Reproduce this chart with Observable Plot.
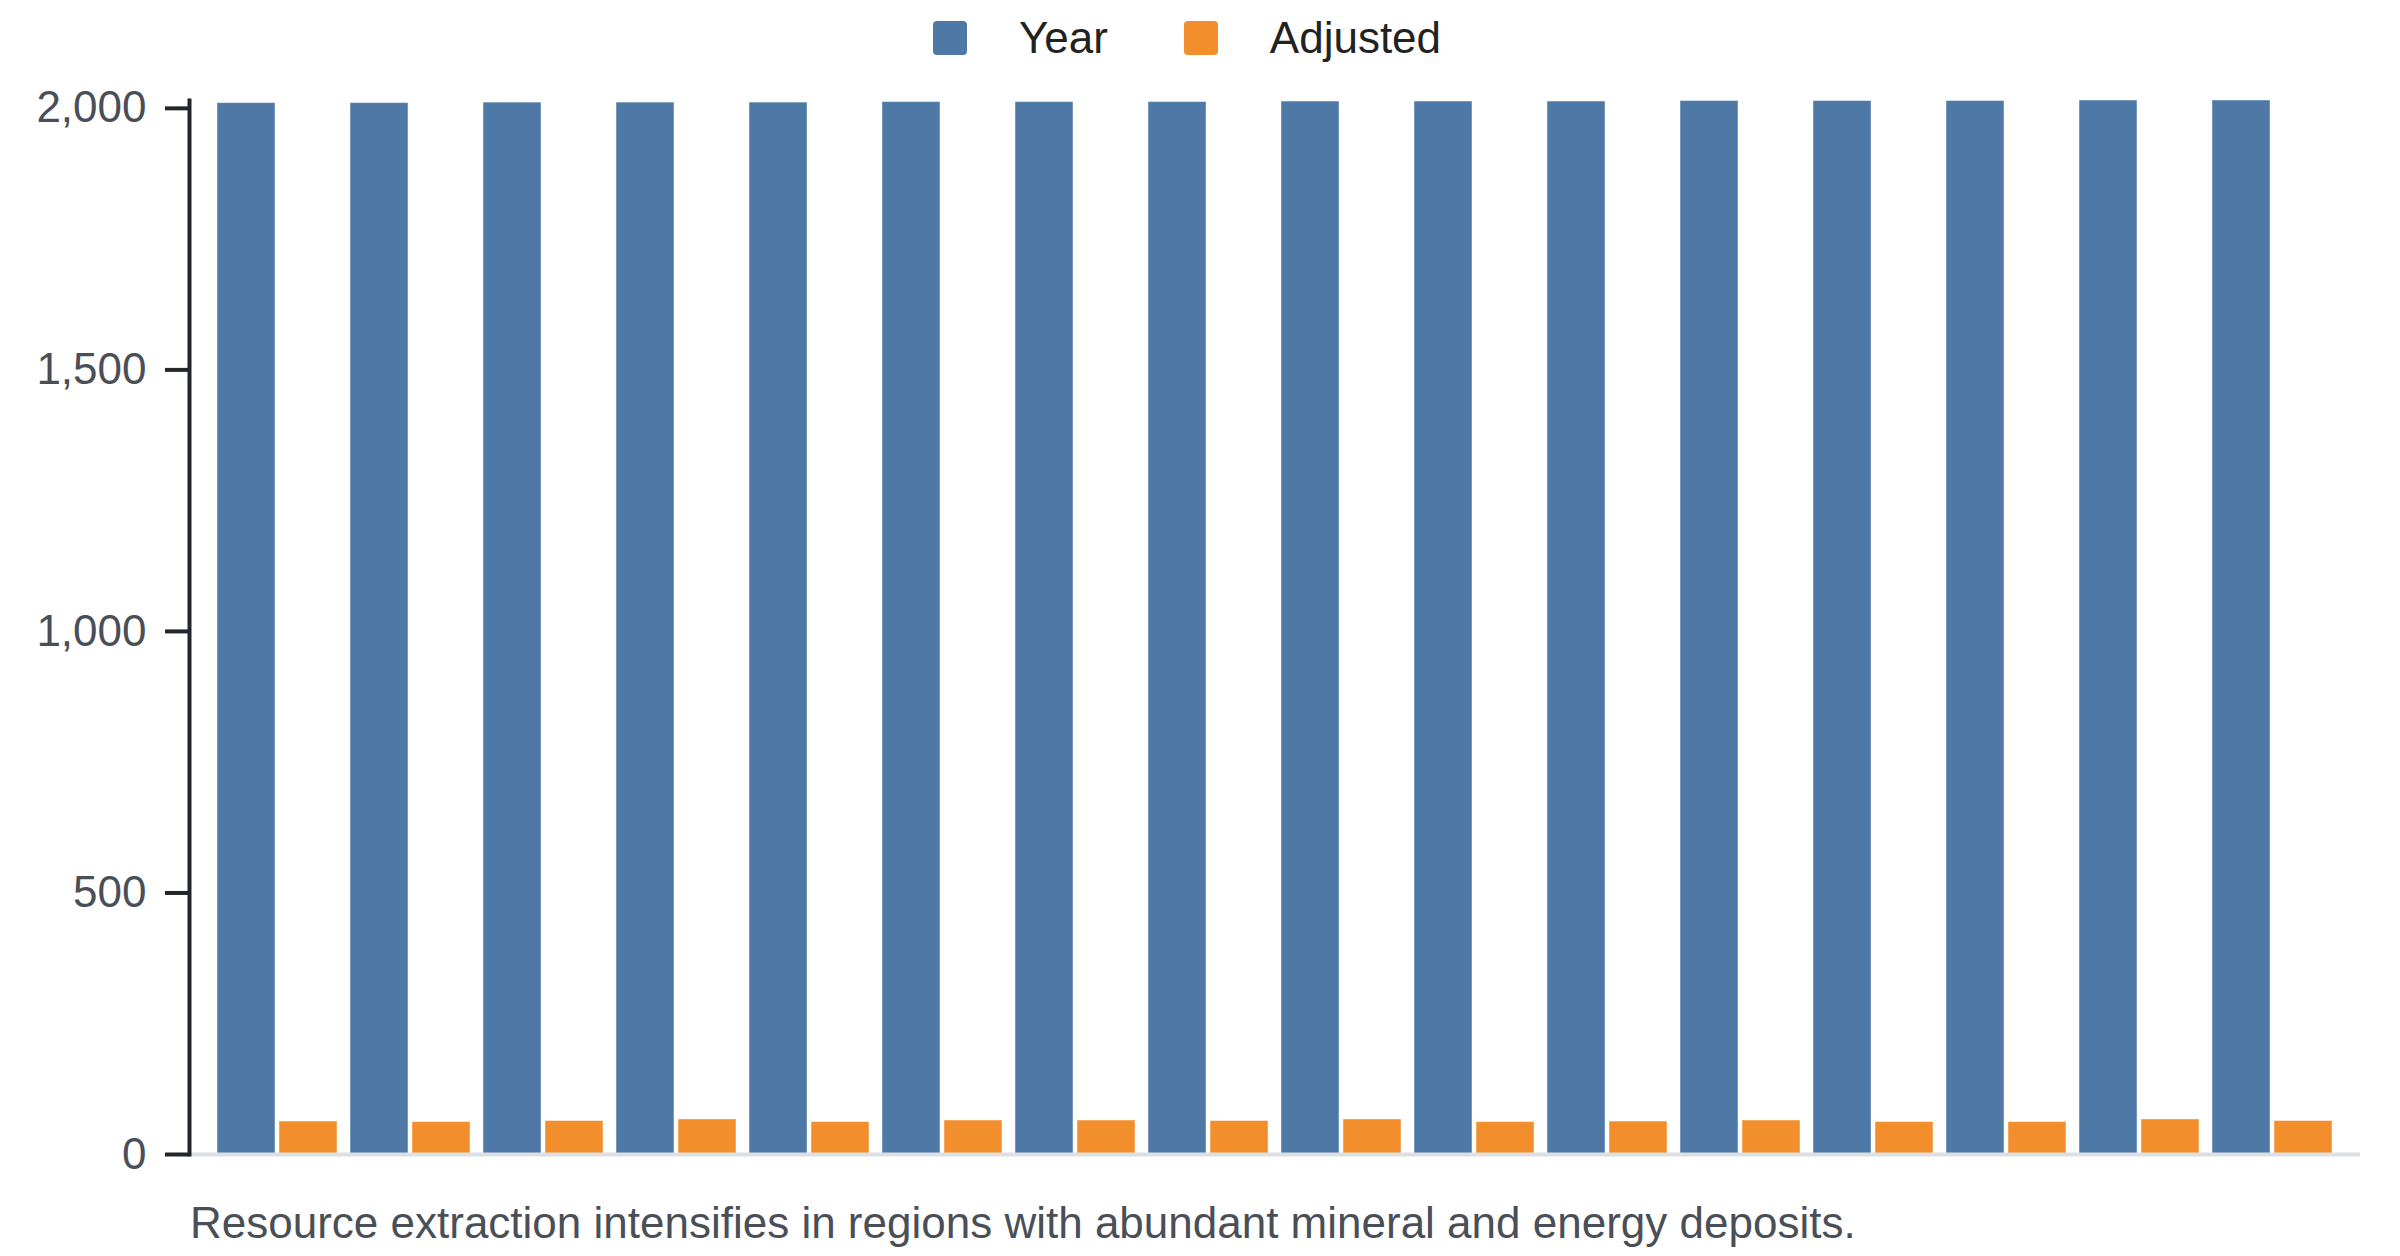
<!DOCTYPE html>
<html>
<head>
<meta charset="utf-8">
<script src="https://cdn.jsdelivr.net/npm/d3@7"></script>
<script src="https://cdn.jsdelivr.net/npm/@observablehq/plot@0.6"></script>
<style>
  html, body { margin: 0; padding: 0; background: #fff; }
  body { width: 2400px; font-family: "Liberation Sans", Arial, sans-serif; }
  #legend { height: 76px; display: flex; justify-content: center; align-items: center; padding-right: 26px; box-sizing: border-box; }
  .item { display: flex; align-items: center; margin: 0 38px; }
  .sw { width: 34px; height: 34px; border-radius: 4px; margin-right: 52px; }
  .lab { font-size: 44px; color: #222; }
  #caption { margin: 4px 0 0 190px; font-size: 44px; color: #4a4f57; line-height: 50px; }
</style>
</head>
<body>
<div id="legend"></div>
<div id="chart"></div>
<div id="caption"></div>
<script>
const periods = ["1","2","3","4","5","6","7","8","9","10","11","12","13","14","15","16"];
const series = ["Year", "Adjusted"];
const colors = ["#4e79a7", "#f28e2c"];
const yearValues = [2010,2010,2011,2011,2011,2012,2012,2012,2013,2013,2013,2014,2014,2014,2015,2015];
const adjustedValues = [63,62,64,67,62,65,65,64,67,62,63,65,62,62,67,64];
const yTicks = [0, 500, 1000, 1500, 2000];
const captionText = "Resource extraction intensifies in regions with abundant mineral and energy deposits.";

const rows = [];
periods.forEach((p, i) => {
  rows.push({period: p, series: series[0], value: yearValues[i]});
  rows.push({period: p, series: series[1], value: adjustedValues[i]});
});

const plot = Plot.plot({
  width: 2400,
  height: 1118,
  marginTop: 24,
  marginBottom: 40,
  marginLeft: 189,
  marginRight: 40,
  style: {fontFamily: '"Liberation Sans", Arial, sans-serif', fontSize: "44px", background: "#fff", color: "#23262b", overflow: "visible"},
  x: {domain: periods, paddingInner: 0.1, paddingOuter: 0.2, axis: null},
  y: {domain: [0, d3.max(yearValues)], axis: null},
  color: {domain: series, range: colors},
  marks: [
    Plot.barY(rows.filter(d => d.series === series[0]), {x: "period", y: "value", fill: "series", insetRight: 62, stroke: "white", strokeOpacity: 0.45, strokeWidth: 1}),
    Plot.barY(rows.filter(d => d.series === series[1]), {x: "period", y: "value", fill: "series", insetLeft: 62, stroke: "white", strokeOpacity: 0.45, strokeWidth: 1}),
    Plot.ruleY([0], {stroke: "#dcdfe3", strokeWidth: 4}),
    Plot.frame({anchor: "left", stroke: "#23262b", strokeWidth: 4}),
    Plot.axisY({ticks: yTicks, tickSize: 24, tickPadding: 19, tickFormat: d3.format(","), label: null, stroke: "#23262b", strokeWidth: 4, fill: "#4a4f57", fontSize: 44})
  ]
});
document.getElementById("chart").appendChild(plot);

const legend = document.getElementById("legend");
series.forEach((s, i) => {
  const item = document.createElement("div");
  item.className = "item";
  const sw = document.createElement("div");
  sw.className = "sw";
  sw.style.background = colors[i];
  const lab = document.createElement("span");
  lab.className = "lab";
  lab.textContent = s;
  item.appendChild(sw);
  item.appendChild(lab);
  legend.appendChild(item);
});
document.getElementById("caption").textContent = captionText;
</script>
</body>
</html>
